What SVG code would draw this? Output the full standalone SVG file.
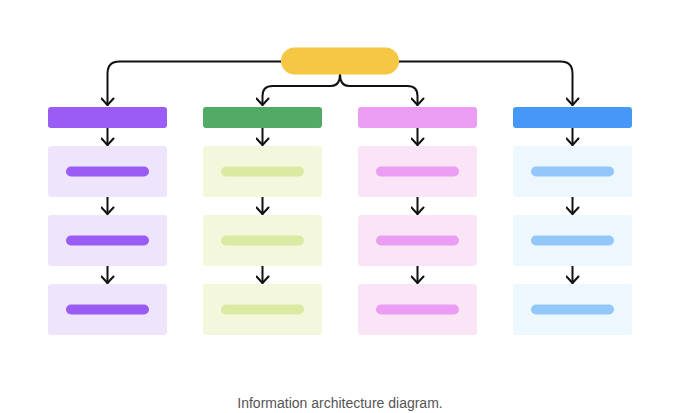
<svg xmlns="http://www.w3.org/2000/svg" width="680" height="413" viewBox="0 0 680 413">
<defs>
<style>
.hd{stroke:none}
.box{stroke:none}
.bar{stroke:none}
.ln{fill:none;stroke:#111;stroke-width:2;stroke-linecap:round;stroke-linejoin:round}
.cap{font-family:"Liberation Sans",Arial,sans-serif;font-size:14px;fill:#555}
</style>
<marker id="av" viewBox="-7 -8 14 10" refX="0" refY="0" markerWidth="14" markerHeight="10" markerUnits="userSpaceOnUse" orient="0">
<path d="M-6,-6.5 L0,0 L6,-6.5" fill="none" stroke="#111" stroke-width="2" stroke-linecap="round" stroke-linejoin="round"/>
</marker>
</defs>
<rect width="680" height="413" fill="#fff"/>

<g id="connectors">
<path class="ln" d="M281,61.5 H119.5 Q107.5,61.5 107.5,73.5 V105" marker-end="url(#av)"/>
<path class="ln" d="M399,61.5 H560.5 Q572.5,61.5 572.5,73.5 V105" marker-end="url(#av)"/>
<path class="ln" d="M340,74 C340,82 337,86 331,86 H272.5 Q262.5,86 262.5,96 V105" marker-end="url(#av)"/>
<path class="ln" d="M340,74 C340,82 343,86 349,86 H407.5 Q417.5,86 417.5,96 V105" marker-end="url(#av)"/>
<g id="col-arrows">
<path class="ln" d="M107.5,128 V145" marker-end="url(#av)"/>
<path class="ln" d="M107.5,197 V214" marker-end="url(#av)"/>
<path class="ln" d="M107.5,266 V283" marker-end="url(#av)"/>
<path class="ln" d="M262.5,128 V145" marker-end="url(#av)"/>
<path class="ln" d="M262.5,197 V214" marker-end="url(#av)"/>
<path class="ln" d="M262.5,266 V283" marker-end="url(#av)"/>
<path class="ln" d="M417.5,128 V145" marker-end="url(#av)"/>
<path class="ln" d="M417.5,197 V214" marker-end="url(#av)"/>
<path class="ln" d="M417.5,266 V283" marker-end="url(#av)"/>
<path class="ln" d="M572.5,128 V145" marker-end="url(#av)"/>
<path class="ln" d="M572.5,197 V214" marker-end="url(#av)"/>
<path class="ln" d="M572.5,266 V283" marker-end="url(#av)"/>
</g>
</g>

<g id="root"><rect x="281" y="47.5" width="118" height="27" rx="13.5" fill="#F6C744"/></g>

<g id="col1-header"><rect class="hd" x="48" y="107" width="119" height="21" rx="3" fill="#9B5CF6"/></g>
<g id="col1-item1"><rect class="box" x="48" y="146" width="119" height="51" rx="3" fill="#EEE5FD"/><rect class="bar" x="66" y="166.5" width="83" height="10" rx="5" fill="#9B5CF6"/></g>
<g id="col1-item2"><rect class="box" x="48" y="215" width="119" height="51" rx="3" fill="#EEE5FD"/><rect class="bar" x="66" y="235.5" width="83" height="10" rx="5" fill="#9B5CF6"/></g>
<g id="col1-item3"><rect class="box" x="48" y="284" width="119" height="51" rx="3" fill="#EEE5FD"/><rect class="bar" x="66" y="304.5" width="83" height="10" rx="5" fill="#9B5CF6"/></g>

<g id="col2-header"><rect class="hd" x="203" y="107" width="119" height="21" rx="3" fill="#51AB67"/></g>
<g id="col2-item1"><rect class="box" x="203" y="146" width="119" height="51" rx="3" fill="#F3F8DD"/><rect class="bar" x="221" y="166.5" width="83" height="10" rx="5" fill="#DBEAA3"/></g>
<g id="col2-item2"><rect class="box" x="203" y="215" width="119" height="51" rx="3" fill="#F3F8DD"/><rect class="bar" x="221" y="235.5" width="83" height="10" rx="5" fill="#DBEAA3"/></g>
<g id="col2-item3"><rect class="box" x="203" y="284" width="119" height="51" rx="3" fill="#F3F8DD"/><rect class="bar" x="221" y="304.5" width="83" height="10" rx="5" fill="#DBEAA3"/></g>

<g id="col3-header"><rect class="hd" x="358" y="107" width="119" height="21" rx="3" fill="#EA9DF2"/></g>
<g id="col3-item1"><rect class="box" x="358" y="146" width="119" height="51" rx="3" fill="#FAE5F7"/><rect class="bar" x="376" y="166.5" width="83" height="10" rx="5" fill="#EA9DF2"/></g>
<g id="col3-item2"><rect class="box" x="358" y="215" width="119" height="51" rx="3" fill="#FAE5F7"/><rect class="bar" x="376" y="235.5" width="83" height="10" rx="5" fill="#EA9DF2"/></g>
<g id="col3-item3"><rect class="box" x="358" y="284" width="119" height="51" rx="3" fill="#FAE5F7"/><rect class="bar" x="376" y="304.5" width="83" height="10" rx="5" fill="#EA9DF2"/></g>

<g id="col4-header"><rect class="hd" x="513" y="107" width="119" height="21" rx="3" fill="#4797F8"/></g>
<g id="col4-item1"><rect class="box" x="513" y="146" width="119" height="51" rx="3" fill="#EDF8FE"/><rect class="bar" x="531" y="166.5" width="83" height="10" rx="5" fill="#93C7F9"/></g>
<g id="col4-item2"><rect class="box" x="513" y="215" width="119" height="51" rx="3" fill="#EDF8FE"/><rect class="bar" x="531" y="235.5" width="83" height="10" rx="5" fill="#93C7F9"/></g>
<g id="col4-item3"><rect class="box" x="513" y="284" width="119" height="51" rx="3" fill="#EDF8FE"/><rect class="bar" x="531" y="304.5" width="83" height="10" rx="5" fill="#93C7F9"/></g>

<text class="cap" x="340" y="408" text-anchor="middle">Information architecture diagram.</text>
</svg>
